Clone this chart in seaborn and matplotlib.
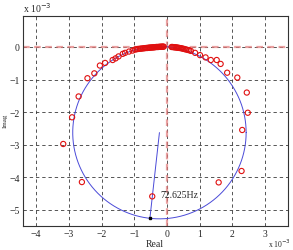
import numpy as np
import pandas as pd
import matplotlib
matplotlib.use("Agg")
import matplotlib.pyplot as plt
import seaborn as sns

# =========================================================
# Nyquist data (units of 1e-3)
# =========================================================
real_vals = [
    -3.17, -2.90, -2.70, -2.60, -2.43, -2.22, -2.05, -1.89, -1.66, -1.57,
    -1.48, -1.35, -1.28, -1.16, -1.05, -0.98,
    -0.93, -0.88, -0.83, -0.79, -0.75, -0.71, -0.67, -0.63, -0.60, -0.57,
    -0.54, -0.51, -0.48, -0.45, -0.42, -0.39, -0.36, -0.33, -0.30, -0.27,
    -0.24, -0.21, -0.18, -0.15, -0.12, -0.10,
    0.14, 0.17, 0.20, 0.23, 0.26, 0.29, 0.32, 0.35, 0.38, 0.42,
    0.46, 0.50, 0.54, 0.58, 0.63, 0.68, 0.73,
    0.86, 1.01, 1.18, 1.34, 1.52, 1.64, 1.84, 2.15, 2.44, 2.47,
    2.30, 2.28, 1.58, -0.45,
]
imag_vals = [
    -2.98, -2.16, -1.52, -4.15, -0.96, -0.81, -0.57, -0.49, -0.40, -0.35,
    -0.29, -0.21, -0.18, -0.14, -0.11, -0.08,
    -0.07, -0.06, -0.055, -0.05, -0.045, -0.04, -0.035, -0.03, -0.03, -0.025,
    -0.02, -0.02, -0.015, -0.015, -0.01, -0.01, -0.005, 0.0, 0.0, 0.0,
    0.005, 0.005, 0.01, 0.01, 0.01, 0.01,
    0.0, 0.0, -0.005, -0.01, -0.01, -0.015, -0.02, -0.025, -0.03, -0.035,
    -0.045, -0.055, -0.065, -0.075, -0.09, -0.10, -0.12,
    -0.18, -0.25, -0.32, -0.40, -0.40, -0.52, -0.79, -0.94, -1.40, -2.02,
    -2.55, -3.81, -4.16, -4.59,
]

# fitted modal circle
circle_center = (-0.23, -2.63)
circle_radius = 2.65
radius_end = (-0.52, -5.25)

peak_point = (-0.45, -4.59)
peak_label = "72.625Hz"

x_ticks = [-4, -3, -2, -1, 0, 1, 2, 3]
y_ticks = [-5, -4, -3, -2, -1, 0]

# =========================================================
# Plot
# =========================================================
sns.set_style("white")
plt.rcParams["font.family"] = ["Liberation Serif", "DejaVu Serif"]

fig = plt.figure(figsize=(2.93, 2.51), dpi=100)
ax = fig.add_axes([0.0785, 0.0956, 0.9045, 0.8364])

ax.grid(True, color="#3a3a3a", linestyle=(0, (4, 3.5)), linewidth=0.6)
ax.axvline(0, color="#e27a7a", linestyle=(0, (3, 2)), linewidth=1.6, alpha=0.7, zorder=1)
ax.axhline(0, color="#e27a7a", linestyle=(0, (3, 2)), linewidth=1.6, alpha=0.7, zorder=1)

t = np.linspace(0, 2 * np.pi, 400)
circ = pd.DataFrame({
    "x": circle_center[0] + circle_radius * np.cos(t),
    "y": circle_center[1] + circle_radius * np.sin(t),
})
ax.plot(circ["x"], circ["y"], color="#4a4ad8", linewidth=0.7, zorder=2)
ax.plot([circle_center[0], radius_end[0]], [circle_center[1], radius_end[1]],
        color="#4a4ad8", linewidth=0.7, zorder=2)
ax.plot(radius_end[0], radius_end[1], "s", color="black", markersize=1.5, zorder=3)

df = pd.DataFrame({"Real": real_vals, "Imag": imag_vals})
sns.scatterplot(data=df, x="Real", y="Imag", ax=ax, marker="o", s=14,
                facecolor="none", edgecolor="#e01010", linewidth=0.8, zorder=4)

ax.text(peak_point[0] + 0.25, peak_point[1] + 0.05, peak_label, fontsize=7,
        va="center", ha="left")

ax.set_xlim(-4.4, 3.7)
ax.set_ylim(-5.5, 0.95)
ax.set_xticks(x_ticks)
ax.set_yticks(y_ticks)
ax.tick_params(direction="in", length=2, labelsize=7, pad=2.5)
for s in ax.spines.values():
    s.set_color("#333333")
    s.set_linewidth(0.8)

ax.set_xlabel("")
ax.set_ylabel("")
fig.text(155 / 293, 1 - 245 / 251, "Real", fontsize=7, ha="center", va="center")
fig.text(5 / 293, 1 - 121 / 251, "Imag", fontsize=5, ha="center", va="center", rotation=90)

fig.text(23 / 293, 1 - 15 / 251, r"x 10$^{-3}$", fontsize=7, ha="left", va="bottom")
fig.text(291 / 293, 1 - 250 / 251, r"x 10$^{-3}$", fontsize=5.5, ha="right", va="bottom")

fig.savefig("out.png", dpi=100)
